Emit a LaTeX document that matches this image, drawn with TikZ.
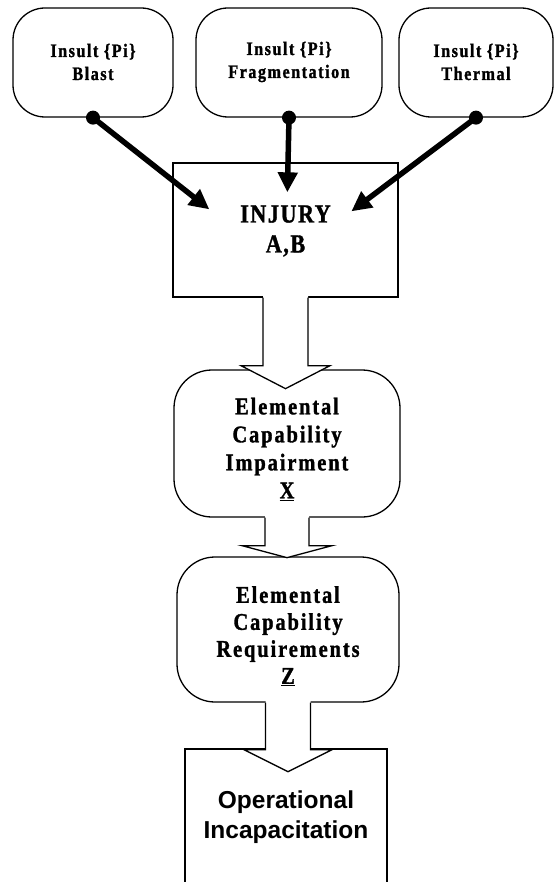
\documentclass[tikz,border=0pt]{standalone}
\usepackage{fontspec}
\newfontfamily\tb[FakeStretch=0.85,FakeBold=1.3]{Liberation Serif}
\newfontfamily\ab{Liberation Sans}
\usetikzlibrary{arrows.meta,calc}
\newcommand\blockarrow[5]{%
  \fill[white] ($(#1)+(-#4,-2)$) -- ($(#1)+(-#4,#2)$) -- ($(#1)+(-#5,#2)$) -- ($(#1)+(0,#2+#3)$) -- ($(#1)+(#5,#2)$) -- ($(#1)+(#4,#2)$) -- ($(#1)+(#4,-2)$) -- cycle;
  \draw[edge] ($(#1)+(-#4,0)$) -- ($(#1)+(-#4,#2)$) -- ($(#1)+(-#5,#2)$) -- ($(#1)+(0,#2+#3)$) -- ($(#1)+(#5,#2)$) -- ($(#1)+(#4,#2)$) -- ($(#1)+(#4,0)$);}
\begin{document}
\begin{tikzpicture}[x=1pt,y=-1pt,
  edge/.style={line width=1.3pt,line join=miter},
  sqbox/.style={draw,line width=1.3pt,inner sep=0pt},
  rbox/.style={sqbox,rounded corners=32pt},
  toptxt/.style={align=center,inner sep=0pt,font=\tb\bfseries\fontsize{19}{23}\selectfont\addfontfeature{LetterSpace=8}},
  midtxt/.style={align=center,inner sep=0pt,font=\tb\bfseries\fontsize{24}{28}\selectfont\addfontfeature{LetterSpace=8}},
  injtxt/.style={align=center,inner sep=0pt,font=\tb\bfseries\fontsize{26}{30}\selectfont\addfontfeature{LetterSpace=6}},
  optxt/.style={align=center,inner sep=0pt,font=\ab\bfseries\fontsize{24.5}{30}\selectfont},
  dotarrow/.style={line width=5.5pt,-{Triangle[length=20pt,width=19pt]}}]
\useasboundingbox (0,0) rectangle (554,882);
\clip (0,0) rectangle (554,882);
\fill[white] (0,0) rectangle (554,882);

% boxes
\node[rbox,minimum width=160pt,minimum height=109pt] (blast) at (93,62.5) {};
\node[rbox,minimum width=186pt,minimum height=109pt] (frag) at (289,62.5) {};
\node[rbox,minimum width=154pt,minimum height=109pt] (therm) at (476,62.5) {};
\node[sqbox,minimum width=225pt,minimum height=134pt] (injury) at (285.5,230) {};
\node[rbox,rounded corners=38pt,minimum width=226pt,minimum height=147pt] (impair) at (287,443.5) {};
\node[rbox,rounded corners=38pt,minimum width=222pt,minimum height=145pt] (req) at (288,629.5) {};
\node[sqbox,minimum width=202pt,minimum height=200pt] (oper) at (286,849) {};

% block arrows
\blockarrow{injury.south}{68}{23}{22.5}{44.5}
\blockarrow{impair.south}{28}{12}{22}{45}
\blockarrow{req.south}{47}{22}{22.5}{44}

% insult arrows
\coordinate (ta) at ($(injury.north west)+(37,47)$);
\coordinate (tb) at ($(injury.north west)+(115,30)$);
\coordinate (tc) at ($(injury.north west)+(179,49)$);
\fill (blast.south) circle (7pt);
\fill (frag.south) circle (7pt);
\fill (therm.south) circle (7pt);
\draw[dotarrow] (blast.south) -- (ta);
\draw[dotarrow] (frag.south) -- (tb);
\draw[dotarrow] (therm.south) -- (tc);

% texts
\node[toptxt] (blastt) at (93,62) {Insult \{Pi\}\\Blast};
\node[toptxt] (fragt) at (289,62) {Insult \{Pi\}\\Fragmentation};
\node[toptxt] (thermt) at (476,62) {Insult \{Pi\}\\Thermal};
\node[injtxt] (injt) at (285.5,231) {INJURY\\A,B};
\node[midtxt] (impt) at (287,449) {Elemental\\Capability\\Impairment\\\underline{X}};
\node[midtxt,font=\tb\bfseries\fontsize{24}{27}\selectfont\addfontfeature{LetterSpace=8}] (reqt) at (288,636) {Elemental\\Capability\\Requirements\\\underline{Z}};
\node[optxt] (opt) at (286,817) {Operational\\Incapacitation};
\end{tikzpicture}
\end{document}
